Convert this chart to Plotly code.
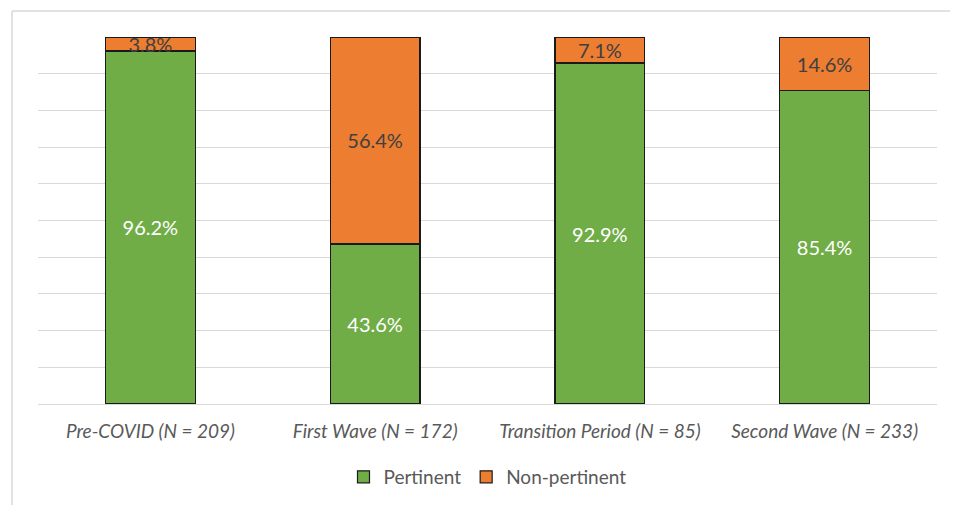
import plotly.graph_objects as go

categories = ["Pre-COVID (N = 209)", "First Wave (N = 172)", "Transition Period (N = 85)", "Second Wave (N = 233)"]
pertinent = [96.2, 43.6, 92.9, 85.4]
non_pertinent = [3.8, 56.4, 7.1, 14.6]

GREEN = "#70AD47"
ORANGE = "#ED7D31"
FONT = "Lato"

fig = go.Figure()
fig.add_trace(go.Bar(
    x=categories, y=pertinent, name="Pertinent",
    marker=dict(color=GREEN, line=dict(color="#1a1a1a", width=1.2)),
    text=[f"{v:.1f}%" for v in pertinent], textposition="inside",
    insidetextanchor="middle", constraintext="none",
    textfont=dict(color="white", size=20, family=FONT),
))
fig.add_trace(go.Bar(
    x=categories, y=non_pertinent, name="Non-pertinent",
    marker=dict(color=ORANGE, line=dict(color="#1a1a1a", width=1.2)),
    text=[f"{v:.1f}%" for v in non_pertinent], textposition="inside",
    insidetextanchor="middle", constraintext="none",
    textfont=dict(color="#404040", size=20, family=FONT),
))

# page body adds an 8px offset; figure sized/margined to compensate
W, H = 950, 497
L, R, T, B = 30, 21, 29, 101
pw, ph = W - L - R, H - T - B

fig.update_layout(
    width=W, height=H, barmode="stack", bargap=0.6,
    margin=dict(l=L, r=R, t=T, b=B, autoexpand=False),
    plot_bgcolor="white", paper_bgcolor="white",
    font=dict(family=FONT, color="#595959", size=19),
    showlegend=True,
    legend=dict(orientation="h", x=0.5, xanchor="center", y=(T + ph - 469) / ph, yanchor="middle",
                font=dict(size=19, color="#595959"), traceorder="normal"),
    xaxis=dict(showgrid=False, showline=False, ticks="",
               tickfont=dict(size=19, family=FONT, color="#595959", style="italic"),
               ticklabelstandoff=14),
    yaxis=dict(range=[0, 100], dtick=10, showgrid=True, gridcolor="#D9D9D9", gridwidth=1.2,
               showticklabels=False, zeroline=True, zerolinecolor="#D9D9D9", zerolinewidth=1.2),
)

# chart frame (light border at top and left edges)
x0 = (4 - L) / pw
y0 = (T + ph - 3) / ph
fig.add_shape(type="line", xref="paper", yref="paper", x0=x0, x1=(W - L) / pw, y0=y0, y1=y0,
              line=dict(color="#D9D9D9", width=1.5))
fig.add_shape(type="line", xref="paper", yref="paper", x0=x0, x1=x0, y0=y0, y1=(T + ph - H) / ph,
              line=dict(color="#D9D9D9", width=1.5))

fig.write_html("out.html")
